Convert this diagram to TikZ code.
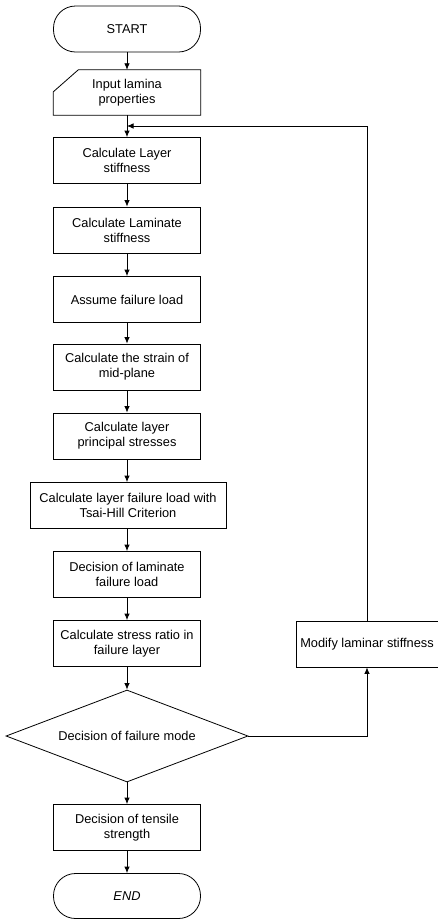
\documentclass[tikz,border=0pt]{standalone}
\usepackage{fontspec}
\setmainfont{Liberation Sans}
\usetikzlibrary{shapes.geometric,arrows.meta,calc}
\begin{document}
\begin{tikzpicture}[x=1pt,y=-1pt,
  every node/.style={font=\fontsize{12.8}{15}\selectfont, align=center, inner sep=0pt},
  procbox/.style={draw, line width=0.8pt, rectangle, minimum width=147pt, minimum height=46pt},
  termbox/.style={draw, line width=0.8pt, rectangle, rounded corners=22pt, minimum width=147pt, minimum height=46pt},
  decbox/.style={draw, line width=0.8pt, diamond, aspect=2.63, minimum width=242pt, minimum height=92pt},
  flow/.style={line width=0.8pt, -{Latex[length=6.5pt,width=5.5pt]}},
  plain/.style={line width=0.8pt}
]
\useasboundingbox (0,0) rectangle (438,919);
\node[termbox] (start) at (127,29) {START};
\node[minimum width=147pt, minimum height=45pt] (input) at (127,92.5) {Input lamina\\properties};
\draw[plain] ($(input.north west)+(25,0)$) -- (input.north east) -- (input.south east) -- (input.south west) -- ($(input.north west)+(0,22)$) -- cycle;
\node[procbox] (n1) at (127,160.5) {Calculate Layer\\stiffness};
\node[procbox] (n2) at (127,230) {Calculate Laminate\\stiffness};
\node[procbox] (n3) at (127,299.5) {Assume failure load};
\node[procbox] (n4) at (127,367) {Calculate the strain of\\mid-plane};
\node[procbox] (n5) at (127,436) {Calculate layer\\principal stresses};
\node[procbox, minimum width=196pt] (n6) at (128,505.5) {Calculate layer failure load with\\Tsai-Hill Criterion};
\node[procbox] (n7) at (127,574.5) {Decision of laminate\\failure load};
\node[procbox] (n8) at (127,643.5) {Calculate stress ratio in\\failure layer};
\node[decbox] (dec) at (127,736) {Decision of failure mode};
\node[procbox, minimum width=142pt] (mod) at (367,644) {Modify laminar stiffness};
\node[procbox] (n9) at (127,827.5) {Decision of tensile\\strength};
\node[termbox, minimum height=45pt] (end) at (127,896) {\itshape END};
\coordinate (loopend) at (127,126);
\draw[flow] (start) -- (input);
\draw[flow] (input) -- (n1);
\draw[flow] (n1) -- (n2);
\draw[flow] (n2) -- (n3);
\draw[flow] (n3) -- (n4);
\draw[flow] (n4) -- (n5);
\draw[flow] (n5) -- (n6.north -| n5.south);
\draw[flow] (n6.south -| n7.north) -- (n7);
\draw[flow] (n7) -- (n8);
\draw[flow] (n8) -- (dec);
\draw[flow] (dec) -- (n9);
\draw[flow] (n9) -- (end);
\draw[flow] (dec.east) -| (mod.south);
\draw[flow] (mod.north) |- (loopend);
\end{tikzpicture}
\end{document}
